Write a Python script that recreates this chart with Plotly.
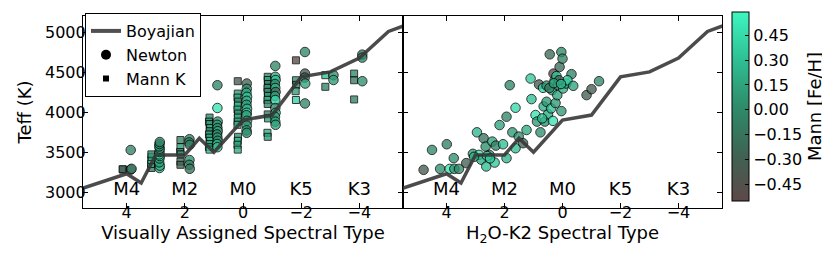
import plotly.graph_objects as go

# ---------------- data ----------------
# Boyajian relation (spectral type index -> Teff)
boy_spt = [6.0, 4, 3.5, 3, 2, 1.5, 1, 0, -1, -2, -3, -4, -5, -6]
boy_teff = [2990, 3228, 3112, 3464, 3464, 3672, 3498, 3900, 3962, 4439, 4501, 4675, 5007, 5140]

# Left panel: Newton (circles), visually assigned type
newton_vis_spt = [3.86, 3.83, 3.86,
                  2.87, 2.86, 2.88, 2.87, 2.86, 2.88, 2.87, 2.86, 2.88, 2.87, 2.86,
                  1.84, 1.85, 1.83, 1.84, 1.85, 1.83,
                  0.88, 0.88, 0.87, 0.89, 0.88, 0.87, 0.89, 0.88, 0.87, 0.89, 0.88,
                  -0.13, -0.13, -0.12, -0.14, -0.13, -0.12, -0.14, -0.13, -0.12, -0.14, -0.13, -0.12, -0.13,
                  -1.11, -1.11, -1.12, -1.10, -1.11, -1.12, -1.10, -1.11, -1.11, -1.12, -1.10, -1.11, -1.12,
                  -2.13, -2.13, -2.12, -2.14, -2.13,
                  -3.11, -3.11,
                  -4.10, -4.10, -4.10]
newton_vis_teff = [3280, 3290, 3525,
                   3300, 3330, 3370, 3420, 3450, 3470, 3500, 3540, 3570, 3600, 3625,
                   3660, 3620, 3590, 3400, 3340, 3290,
                   4335, 4050, 3880, 3840, 3800, 3760, 3720, 3680, 3640, 3600, 3560,
                   4356, 4290, 4240, 4190, 4140, 4090, 4040, 3990, 3960, 3890, 3830, 3770, 3740,
                   4576, 4440, 4400, 4350, 4300, 4250, 4200, 4150, 4050, 3990, 3940, 3880, 3840,
                   4750, 4480, 4430, 4356, 4107,
                   4460, 4400,
                   4717, 4680, 4385]
newton_vis_feh = [-0.35, -0.1, -0.05,
                  0.2, 0.3, 0.1, 0.2, 0.45, 0.4, 0.05, 0.0, 0.1, 0.05, -0.05,
                  -0.05, 0.0, -0.1, 0.05, -0.05, -0.15,
                  0.0, 0.5, 0.05, 0.1, 0.0, 0.15, -0.05, 0.1, 0.0, 0.2, 0.3,
                  -0.3, 0.05, 0.15, 0.3, 0.2, 0.1, 0.25, 0.4, 0.1, 0.15, 0.05, 0.1, 0.05,
                  0.0, 0.2, 0.3, 0.0, 0.2, -0.2, 0.1, 0.4, 0.0, 0.2, 0.1, 0.1, 0.15,
                  0.0, -0.35, -0.2, 0.15, 0.0,
                  0.05, 0.1,
                  -0.15, 0.0, 0.05]

# Left panel: Mann K (squares), visually assigned type
mann_vis_spt = [4.12, 4.14,
                3.15, 3.16, 3.15, 3.14, 3.15,
                2.15, 2.15, 2.16, 2.14, 2.15, 2.15,
                1.15, 1.17, 1.15, 1.13, 1.15, 1.17, 1.15, 1.13, 1.15, 1.17, 1.15,
                0.18, 0.18, 0.19, 0.17, 0.18, 0.19, 0.17, 0.18, 0.18, 0.19, 0.17, 0.18, 0.19, 0.18,
                -0.85, -0.85, -0.86, -0.84, -0.85, -0.86, -0.84, -0.85, -0.85, -0.86, -0.84, -0.85,
                -1.82, -1.82, -1.83, -1.81, -1.82,
                -2.83, -2.83,
                -3.82, -3.82, -3.82]
mann_vis_teff = [3280, 3285,
                 3300, 3350, 3400, 3440, 3470,
                 3650, 3560, 3500, 3470, 3380, 3340,
                 3930, 3880, 3850, 3800, 3760, 3720, 3680, 3640, 3600, 3560, 3530,
                 4385, 4230, 4180, 4130, 4080, 4030, 3980, 3930, 3880, 3840, 3690, 3640, 3590, 3530,
                 4440, 4400, 4350, 4300, 4250, 4200, 4150, 4100, 3970, 3920, 3740, 3690,
                 4646, 4397, 4340, 4260, 4150,
                 4460, 4315,
                 4480, 4397, 4157]
mann_vis_feh = [-0.3, -0.25,
                -0.1, 0.15, 0.3, 0.4, 0.0,
                -0.05, 0.1, -0.1, 0.05, -0.2, -0.3,
                0.0, 0.1, 0.05, 0.2, -0.05, 0.1, 0.15, 0.3, 0.1, 0.2, 0.35,
                -0.35, 0.1, 0.2, 0.0, 0.3, 0.15, 0.05, 0.25, 0.1, 0.2, 0.05, 0.3, 0.1, 0.2,
                -0.05, 0.15, -0.1, 0.05, 0.0, 0.1, 0.2, -0.05, -0.1, 0.15, 0.2, 0.1,
                -0.5, 0.05, -0.1, 0.1, 0.4,
                0.3, -0.05,
                0.0, -0.1, -0.05]

# Right panel: Newton, H2O-K2 spectral type
newton_h2o_spt = [4.79, 4.5, 3.99, 4.22, 3.89, 3.75, 3.73, 3.57, 3.32, 3.09,
                  2.95, 2.88, 2.8, 2.72, 2.63, 2.65, 2.52, 2.42, 2.34, 2.3,
                  2.05, 2.17, 1.93, 1.82, 1.93, 1.73, 1.62, 1.62, 1.51, 1.36,
                  1.24, 1.1, 1.07, 0.93, 0.88, 0.81, 0.76, 0.67, 0.65, 0.61,
                  0.55, 0.5, 0.44, 0.39, 0.36, 0.33, 0.31, 0.27, 0.24, 0.18,
                  0.16, 0.1, 0.04, 0.0, 0.04, -0.02, -0.13, -0.31, -0.17, -0.37,
                  -0.83, -1.0, -1.26, 0.21, 0.12,
                  0.55, 0.45, 0.3, 0.7, 0.05, 2.6, 2.5, 3.05]
newton_h2o_teff = [3277, 3526, 3597, 3289, 3289, 3423, 3289, 3289, 3361, 3477,
                   3746, 3464, 3403, 3672, 3319, 3568, 3464, 3630, 3368, 3580,
                   3597, 3837, 3941, 4335, 3423, 3746, 4053, 3547, 3693, 3610,
                   3775, 4418, 4161, 3962, 3880, 4344, 3746, 4302, 4070, 3880,
                   4128, 3971, 4721, 4045, 4273, 3889, 4480, 4397, 4112, 4210,
                   4335, 4563, 4750, 4667, 4011, 4294, 4356, 4473, 4397, 4327,
                   4211, 4285, 4385, 4448, 4397,
                   4330, 4300, 4360, 3920, 4350, 3450, 3420, 3440]
newton_h2o_feh = [-0.35, 0.0, -0.05, 0.05, 0.5, 0.05, 0.1, 0.0, -0.3, 0.1,
                  0.25, 0.5, 0.2, -0.15, 0.3, 0.05, 0.0, 0.15, 0.35, -0.05,
                  0.3, 0.15, 0.0, 0.0, 0.25, 0.1, 0.45, 0.3, 0.05, -0.25,
                  0.2, 0.35, 0.3, 0.5, 0.1, -0.35, 0.05, 0.45, 0.2, 0.05,
                  0.1, 0.2, -0.2, 0.3, 0.2, 0.5, -0.5, 0.0, 0.1, 0.15,
                  0.05, -0.2, 0.0, -0.05, 0.1, 0.2, 0.1, -0.05, 0.4, 0.15,
                  -0.3, -0.35, 0.0, 0.35, -0.3,
                  0.0, -0.1, 0.15, 0.3, 0.25, 0.4, 0.35, 0.2]

sptype_pos = [4, 2, 0, -2, -4]
sptype_labels = ["M4", "M2", "M0", "K5", "K3"]
x_tickvals = [4, 2, 0, -2, -4]
x_ticktext = ["4", "2", "0", "\u22122", "\u22124"]
y_tickvals = [3000, 3500, 4000, 4500, 5000]
cb_tickvals = [-0.45, -0.30, -0.15, 0.0, 0.15, 0.30, 0.45]
cb_ticktext = ["\u22120.45", "\u22120.30", "\u22120.15", "0.00", "0.15", "0.30", "0.45"]

# ---------------- styling ----------------
FONT = "DejaVu Sans"
colorscale = [[0.0, "rgb(94,72,72)"], [0.25, "rgb(62,100,84)"], [0.5, "rgb(46,140,106)"],
              [0.75, "rgb(46,192,148)"], [1.0, "rgb(62,246,192)"]]
line_color = "rgba(55,55,55,0.9)"
label_y = 3025
MOP = 0.78

fig = go.Figure()

# Left panel
fig.add_trace(go.Scatter(x=mann_vis_spt, y=mann_vis_teff, mode="markers", xaxis="x", yaxis="y",
                         marker=dict(symbol="square", size=7, color=mann_vis_feh, coloraxis="coloraxis",
                                     opacity=MOP, line=dict(color="black", width=1)),
                         showlegend=False))
fig.add_trace(go.Scatter(x=newton_vis_spt, y=newton_vis_teff, mode="markers", xaxis="x", yaxis="y",
                         marker=dict(symbol="circle", size=9.5, color=newton_vis_feh, coloraxis="coloraxis",
                                     opacity=MOP, line=dict(color="black", width=1)),
                         showlegend=False))
fig.add_trace(go.Scatter(x=boy_spt, y=boy_teff, mode="lines", xaxis="x", yaxis="y",
                         line=dict(color=line_color, width=3.5), showlegend=False))
fig.add_trace(go.Scatter(x=sptype_pos, y=[label_y] * len(sptype_pos), text=sptype_labels, mode="text",
                         xaxis="x", yaxis="y", textfont=dict(family=FONT, size=18, color="black"),
                         showlegend=False, hoverinfo="skip"))

# Right panel
fig.add_trace(go.Scatter(x=newton_h2o_spt, y=newton_h2o_teff, mode="markers", xaxis="x2", yaxis="y2",
                         marker=dict(symbol="circle", size=9.5, color=newton_h2o_feh, coloraxis="coloraxis",
                                     opacity=MOP, line=dict(color="black", width=1)),
                         showlegend=False))
fig.add_trace(go.Scatter(x=boy_spt, y=boy_teff, mode="lines", xaxis="x2", yaxis="y2",
                         line=dict(color=line_color, width=3.5), showlegend=False))
fig.add_trace(go.Scatter(x=sptype_pos, y=[label_y] * len(sptype_pos), text=sptype_labels, mode="text",
                         xaxis="x2", yaxis="y2", textfont=dict(family=FONT, size=18, color="black"),
                         showlegend=False, hoverinfo="skip"))

# Legend proxies
fig.add_trace(go.Scatter(x=[None], y=[None], mode="lines", name="Boyajian",
                         line=dict(color="rgb(80,80,80)", width=4), xaxis="x", yaxis="y"))
fig.add_trace(go.Scatter(x=[None], y=[None], mode="markers", name="Newton",
                         marker=dict(symbol="circle", size=10, color="black"), xaxis="x", yaxis="y"))
fig.add_trace(go.Scatter(x=[None], y=[None], mode="markers", name="Mann K",
                         marker=dict(symbol="square", size=6, color="black"), xaxis="x", yaxis="y"))

W, H = 830, 255
L1, R1, R2 = 75, 395, 714
TOP, BOT = 8, 200
xdom1 = [L1 / W, R1 / W]
xdom2 = [R1 / W, R2 / W]
ydom = [1 - BOT / H, 1 - TOP / H]

axis_common = dict(showline=True, linecolor="black", linewidth=1.2, mirror="allticks",
                   ticks="inside", ticklen=5, tickcolor="black", tickwidth=1,
                   showgrid=False, zeroline=False,
                   tickfont=dict(family=FONT, size=16, color="black"))

fig.update_layout(
    width=W, height=H,
    margin=dict(l=0, r=0, t=0, b=0),
    paper_bgcolor="white", plot_bgcolor="white",
    font=dict(family=FONT, color="black"),
    xaxis=dict(domain=xdom1, range=[5.5, -5.5], tickvals=x_tickvals, ticktext=x_ticktext,
               ticklabelstandoff=-10,
               title=dict(text="Visually Assigned Spectral Type", font=dict(family=FONT, size=18), standoff=3),
               anchor="y", **axis_common),
    yaxis=dict(domain=ydom, range=[2800, 5200], tickvals=y_tickvals, ticklabelstandoff=-7,
               title=dict(text="Teff (K)", font=dict(family=FONT, size=18), standoff=8),
               anchor="x", **axis_common),
    xaxis2=dict(domain=xdom2, range=[5.5, -5.5], tickvals=x_tickvals, ticktext=x_ticktext,
                ticklabelstandoff=-10,
                title=dict(text="H<sub>2</sub>O-K2 Spectral Type", font=dict(family=FONT, size=18), standoff=3),
                anchor="y2", **axis_common),
    yaxis2=dict(domain=ydom, range=[2800, 5200], tickvals=y_tickvals, showticklabels=False,
                anchor="x2", **axis_common),
    coloraxis=dict(
        colorscale=colorscale, cmin=-0.55, cmax=0.59,
        colorbar=dict(x=724 / W, xanchor="left", xpad=0, ypad=0,
                      y=1 - (2 + 195) / 2 / H, yanchor="middle",
                      len=189 / H, lenmode="fraction", thickness=17, thicknessmode="pixels",
                      outlinecolor="black", outlinewidth=1,
                      ticks="inside", ticklen=4, tickcolor="black",
                      tickvals=cb_tickvals, ticktext=cb_ticktext,
                      tickfont=dict(family=FONT, size=16, color="black"),
                      title=dict(text="Mann [Fe/H]", side="right", font=dict(family=FONT, size=18))),
    ),
    legend=dict(x=77 / W, y=1 - 5 / H, xanchor="left", yanchor="top",
                bordercolor="black", borderwidth=1, bgcolor="white",
                font=dict(family=FONT, size=16, color="black"), tracegroupgap=0),
)

fig.write_html("out.html")
